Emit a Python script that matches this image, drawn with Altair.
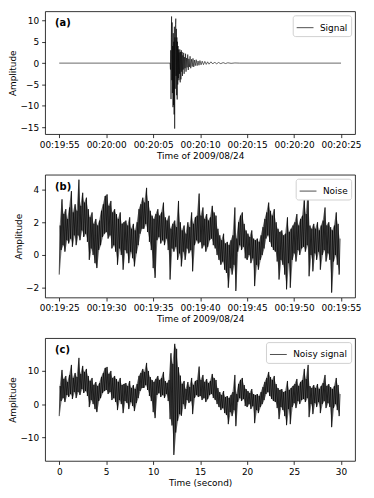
import json
import altair as alt
import pandas as pd

# ---------------- data ----------------
# Panel (a): signal, time in seconds after 00:19:55
sig_t = [0, 11.80, 11.84, 11.87, 11.90, 11.93, 11.96, 11.99, 12.02, 12.05, 12.08, 12.11, 12.14, 12.17,
         12.20, 12.23, 12.26, 12.29, 12.32, 12.35, 12.38, 12.41, 12.44, 12.47, 12.50, 12.53, 12.56,
         12.59, 12.62, 12.65, 12.68, 12.71, 12.74, 12.77, 12.80, 12.84, 12.88, 12.92, 12.96, 13.00,
         13.04, 13.08, 13.12, 13.16, 13.20, 13.25, 13.30, 13.35, 13.40, 13.45, 13.50, 13.56, 13.62,
         13.68, 13.74, 13.80, 13.86, 13.93, 14.00, 14.08, 14.16, 14.24, 14.32, 14.40, 14.48, 14.58,
         14.68, 14.78, 14.88, 14.98, 15.10, 15.22, 15.36, 15.50, 15.65, 15.80, 15.95, 16.15, 16.35,
         16.55, 16.75, 16.95, 17.2, 17.45, 17.7, 17.95, 18.3, 18.7, 19.2, 30]
sig_v = [0, 0, -1.5, 3.0, -8.4, 6.0, 10.9, -4.0, 9.5, -7.0, 4.0, -10.3, 7.0, -9.8,
         5.0, -12.0, 8.5, -15.3, 6.0, -6.0, 9.0, 10.4, -3.0, 8.0, -7.5, 6.0, -8.5,
         5.0, -5.0, 4.0, -3.5, 3.2, -4.0, 2.5, -2.5, 3.2, -4.5, 2.6, -3.8, 3.0,
         -2.0, 2.6, -3.0, 1.8, -1.5, 2.4, -2.5, 1.4, -1.2, 2.2, -2.0, 1.2, -1.0,
         2.0, -1.6, 1.0, -0.9, 1.6, -1.2, 0.9, -0.8, 1.1, -0.9, 0.7, -0.6, 0.8,
         -0.6, 0.5, -0.5, 0.6, -0.4, 0.45, -0.35, 0.4, -0.3, 0.3, -0.25, 0.3, -0.2,
         0.25, -0.2, 0.15, -0.12, 0.12, -0.1, 0.08, -0.05, 0.04, 0, 0]

# Panel (b): noise, low / high excursions every 0.2 s (seconds after 00:19:25)
noise_lo = [-1.2, 0.3, 0.6, 0.2, 0.9,   0.7, 1.0, 0.5, 1.2, 0.6,   1.2, 0.9, 1.5, 1.1, 1.3,
            0.8, -0.3, 0.4, 0.0, -0.5,  -0.8, 0.3, 0.6, 1.1, 1.3,  1.4, 1.0, 1.2, 0.4, 0.6,
            0.2, -0.6, 0.4, 0.0, -0.9,  0.3, 0.1, -0.5, 0.2, -0.2, -0.7, 0.1, 0.6, 1.3, 1.6,
            1.6, 1.9, 1.4, 0.8, 0.3,    -0.8, -1.4, 0.9, 1.1, 0.7,  0.9, 0.6, 1.0, 0.3, -1.5,
            0.4, 0.2, 0.5, -0.3, 0.1,   -0.7, 0.2, -0.3, 0.4, 0.1,  0.3, -1.0, 0.6, 0.9, 0.7,
            0.8, 0.4, 0.6, 0.2, 0.5,    0.9, 1.0, 0.6, 0.4, 0.0,    -0.3, -0.6, -0.4, -0.9, -1.1,
            -2.0, -0.8, -1.2, -0.6, -2.2, 0.2, 0.6, 0.3, 0.5, -0.2,  -0.3, 0.0, -0.5, -0.2, -1.9,
            -0.6, -0.9, -0.3, 0.0, 0.4,  1.0, 1.2, 0.8, 0.5, 0.3,    0.2, -0.4, -1.5, -0.3, -0.6,
            -1.2, -2.1, -0.5, -2.0, -0.3, 0.1, -0.4, 0.3, 0.0, 0.4,  0.5, 0.2, 0.6, -1.3, 0.0,
            -1.0, 0.1, -0.3, 0.2, -0.9,  0.0, 0.3, -0.4, 0.1, -0.3,  -2.3, -0.4, 0.0, -0.6, -1.2]
noise_hi = [1.8, 3.4, 2.5, 2.8, 2.2,    2.9, 3.9, 2.6, 3.1, 2.7,   4.6, 3.0, 3.8, 3.2, 3.5,
            2.8, 2.3, 2.6, 1.9, 2.2,    1.8, 2.1, 2.7, 3.1, 3.6,   3.7, 3.0, 3.3, 2.6, 2.8,
            2.5, 2.2, 2.6, 1.9, 2.0,    2.1, 1.8, 2.3, 1.6, 1.9,   1.5, 2.0, 2.8, 3.1, 3.5,
            3.2, 4.1, 3.3, 2.7, 2.4,    2.2, 2.5, 2.8, 2.4, 2.6,   3.2, 2.3, 2.1, 2.4, 1.6,
            1.9, 2.1, 1.7, 3.3, 2.0,    1.5, 1.8, 1.3, 2.0, 1.7,   2.6, 1.9, 2.3, 2.4, 3.75,
            2.4, 2.9, 2.2, 2.5, 2.1,    2.3, 3.0, 2.6, 2.4, 1.6,   1.2, 0.9, 1.3, 0.7, 0.8,
            0.6, 0.9, 1.2, 2.9, 1.0,    2.0, 2.4, 2.6, 1.9, 1.5,   1.3, 1.1, 1.5, 1.0, 0.9,
            1.0, 0.8, 1.2, 1.7, 2.2,    2.6, 3.2, 2.7, 2.4, 2.8,   2.0, 1.6, 1.4, 1.5, 1.2,
            1.3, 2.3, 1.4, 1.6, 1.8,    2.0, 2.5, 1.8, 2.2, 2.4,   3.5, 2.5, 3.9, 1.8, 1.6,
            1.9, 1.6, 2.0, 1.5, 1.8,    2.1, 2.9, 1.8, 2.0, 1.7,   1.5, 1.8, 2.6, 1.9, 1.0]

# Panel (c): noisy signal, low / high excursions every 0.2 s
noisy_lo = [-3.6, 0.9, 1.8, 0.6, 2.7,   2.1, 3.0, 1.5, 3.6, 1.8,   3.6, 2.7, 4.5, 3.3, 3.9,
            2.4, -0.9, 1.2, 0.0, -1.5,  -2.4, 0.9, 1.8, 3.3, 3.9,  4.2, 3.0, 3.6, 1.2, 1.8,
            0.6, -1.8, 1.2, 0.0, -2.7,  0.9, 0.3, -1.5, 0.6, -0.6, -2.1, 0.3, 1.8, 3.9, 4.8,
            4.8, 5.7, 4.2, 2.4, 0.9,    -2.4, -4.2, 2.7, 3.3, 2.1,  2.7, 1.8, 3.0, 0.9, -4.5,
            -6.4, -15.2, -8.5, -5.0, -3.0, -3.5, 0.0, -1.5, 1.2, 0.3, 0.9, -3.0, 1.8, 2.7, 2.1,
            2.4, 1.2, 1.8, 0.6, 1.5,    2.7, 3.0, 1.8, 1.2, 0.0,    -0.9, -1.8, -1.2, -2.7, -3.3,
            -6.0, -2.4, -3.6, -1.8, -6.6, 0.6, 1.8, 0.9, 1.5, -0.6,  -0.9, 0.0, -1.5, -0.6, -5.7,
            -1.8, -2.7, -0.9, 0.0, 1.2,  3.0, 3.6, 2.4, 1.5, 0.9,    0.6, -1.2, -4.5, -0.9, -1.8,
            -3.6, -6.3, -1.5, -6.0, -0.9, 0.3, -1.2, 0.9, 0.0, 1.2,  1.5, 0.6, 1.8, -3.9, 0.0,
            -3.0, 0.3, -0.9, 0.6, -2.7,  0.0, 0.9, -1.2, 0.3, -0.9,  -6.9, -1.2, 0.0, -1.8, -3.6]
noisy_hi = [5.4, 10.2, 7.5, 8.4, 6.6,   8.7, 11.7, 7.8, 9.3, 8.1,  13.8, 9.0, 11.4, 9.6, 10.5,
            8.4, 6.9, 7.8, 5.7, 6.6,    5.4, 6.3, 8.1, 9.3, 10.8,  11.1, 9.0, 9.9, 7.8, 8.4,
            7.5, 6.6, 7.8, 5.7, 6.0,    6.3, 5.4, 6.9, 4.8, 5.7,   4.5, 6.0, 8.4, 9.3, 10.5,
            9.6, 12.3, 9.9, 8.1, 7.2,   6.6, 7.5, 8.4, 7.2, 7.8,   9.6, 6.9, 6.3, 7.2, 15.2,
            12.0, 18.0, 16.5, 11.0, 8.5, 6.0, 6.9, 4.5, 6.6, 5.1,  7.8, 5.7, 6.9, 7.2, 11.2,
            7.2, 8.7, 6.6, 7.5, 6.3,    6.9, 9.0, 7.8, 7.2, 4.8,   3.6, 2.7, 3.9, 2.1, 2.4,
            1.8, 2.7, 3.6, 8.7, 3.0,    6.0, 7.2, 7.8, 5.7, 4.5,   3.9, 3.3, 4.5, 3.0, 2.7,
            3.0, 2.4, 3.6, 5.1, 6.6,    7.8, 9.6, 8.1, 7.2, 8.4,   6.0, 4.8, 4.2, 4.5, 3.6,
            3.9, 6.9, 4.2, 4.8, 5.4,    6.0, 7.5, 5.4, 6.6, 7.2,   10.5, 7.5, 11.7, 5.4, 4.8,
            5.7, 4.8, 6.0, 4.5, 5.4,    6.3, 8.7, 5.4, 6.0, 5.1,   4.5, 5.4, 7.8, 5.7, 3.0]

sec_ticks = [0, 5, 10, 15, 20, 25, 30]
labels_a = ['00:19:55', '00:20:00', '00:20:05', '00:20:10', '00:20:15', '00:20:20', '00:20:25']
labels_b = ['00:19:25', '00:19:30', '00:19:35', '00:19:40', '00:19:45', '00:19:50', '00:19:55']

FONT = 'DejaVu Sans'


def zigzag(lo, hi, name):
    rows = []
    for i, (a, b) in enumerate(zip(lo, hi)):
        rows.append({'t': round(0.2 * i, 2), 'v': a, 's': name})
        rows.append({'t': round(0.2 * i + 0.1, 2), 'v': b, 's': name})
    return pd.DataFrame(rows)


def band(lo, hi):
    return pd.DataFrame({'t': [round(0.2 * i + 0.05, 2) for i in range(len(lo))], 'lo': lo, 'hi': hi})


df_a = pd.DataFrame({'t': sig_t, 'v': sig_v, 's': 'Signal'})
df_b = zigzag(noise_lo, noise_hi, 'Noise')
df_c = zigzag(noisy_lo, noisy_hi, 'Noisy signal')
band_b = band(noise_lo, noise_hi)
band_c = band(noisy_lo, noisy_hi)


def panel(df, name, ydomain, yticks, xlabels, xtitle, tag, sw, bdf=None):
    if xlabels is not None:
        lab_expr = json.dumps(xlabels) + '[round(datum.value/5)]'
        xaxis = alt.Axis(values=sec_ticks, title=xtitle, labelExpr=lab_expr)
    else:
        xaxis = alt.Axis(values=sec_ticks, title=xtitle)
    xs = alt.Scale(domain=[-1.5, 31.5], nice=False, zero=False)
    ys = alt.Scale(domain=ydomain, nice=False, zero=False)
    line = alt.Chart(df).mark_line(strokeWidth=sw, clip=True).encode(
        x=alt.X('t:Q', scale=xs, axis=xaxis),
        y=alt.Y('v:Q', scale=ys, axis=alt.Axis(values=yticks, title='Amplitude')),
        color=alt.Color('s:N', scale=alt.Scale(domain=[name], range=['black']),
                        legend=alt.Legend(title=None, orient='top-right', symbolType='stroke',
                                          symbolStrokeWidth=0.7, symbolSize=289,
                                          symbolStrokeColor='black',
                                          padding=3.5, offset=4, strokeColor='#d0d0d0',
                                          fillColor='white', cornerRadius=2.5,
                                          labelFont=FONT, labelFontSize=9, labelOffset=6)),
    )
    layers = []
    if bdf is not None:
        area = alt.Chart(bdf).mark_area(color='black', opacity=0.55, clip=True).encode(
            x=alt.X('t:Q', scale=xs), y=alt.Y('lo:Q', scale=ys), y2='hi:Q')
        layers.append(area)
    layers.append(line)
    txt = alt.Chart(pd.DataFrame({'lab': [tag]})).mark_text(
        align='left', baseline='middle', font=FONT, fontSize=10, fontWeight='bold', color='black'
    ).encode(text='lab:N', x=alt.value(10), y=alt.value(12))
    layers.append(txt)
    return alt.layer(*layers).properties(width=313, height=124)


pa = panel(df_a, 'Signal', [-16.6, 12.1], [-15, -10, -5, 0, 5, 10], labels_a, 'Time of 2009/08/24', '(a)', 0.6)
pb = panel(df_b, 'Noise', [-2.6, 4.9], [-2, 0, 2, 4], labels_b, 'Time of 2009/08/24', '(b)', 0.7, band_b)
pc = panel(df_c, 'Noisy signal', [-17.0, 19.7], [-10, 0, 10], None, 'Time (second)', '(c)', 0.7, band_c)

chart = alt.vconcat(pa, pb, pc, spacing=13).resolve_scale(color='independent').resolve_legend(
    color='independent'
).configure_view(stroke='black', strokeWidth=0.8).configure_axis(
    grid=False, domain=False, tickColor='black', tickSize=3.5, tickWidth=0.8,
    labelColor='black', labelFont=FONT, labelFontSize=9, labelPadding=3, labelOverlap=False,
    labelFlush=False, titleFont=FONT, titleFontSize=9, titleFontWeight='normal',
    titleColor='black', titlePadding=2
).properties(padding={'left': 0.5, 'top': 0, 'right': 4, 'bottom': 4})

chart.save('out.html', embed_options={'renderer': 'svg', 'actions': False})
